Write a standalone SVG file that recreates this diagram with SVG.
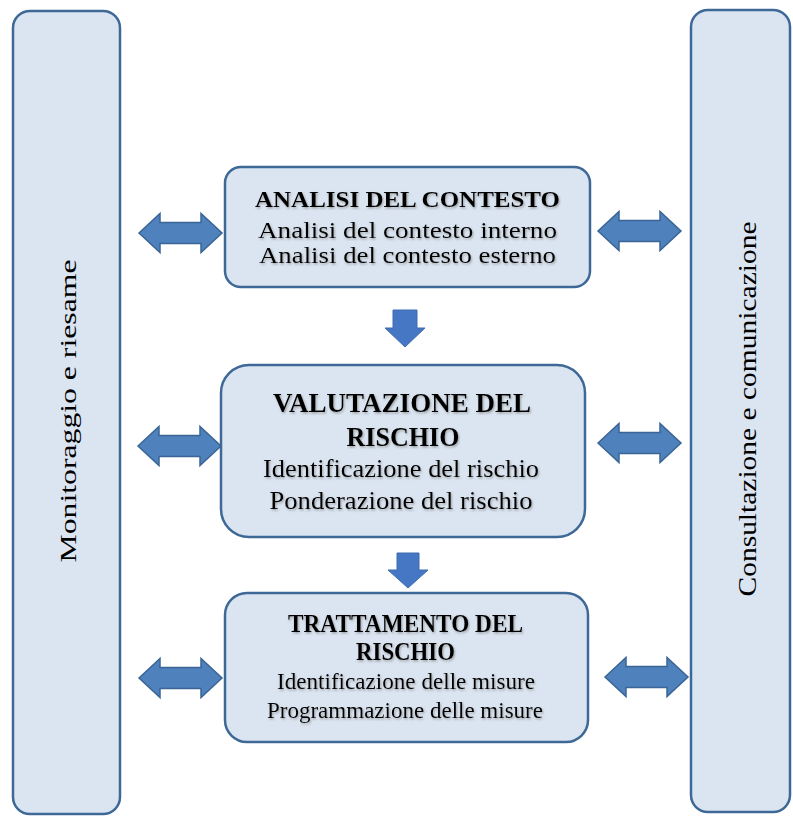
<svg xmlns="http://www.w3.org/2000/svg" width="793" height="816" viewBox="0 0 793 816">
<style>
.panel{fill:#dbe5f1;stroke:#3e6896;stroke-width:2.5}
.box{fill:#dbe5f1;stroke:#3e6896;stroke-width:2.5}
.t{font-family:"Liberation Serif","Times New Roman",serif;fill:#000;text-anchor:middle}
.b{font-weight:bold}
.sh{filter:url(#shadow)}
.darrow{fill:#4f81bd;stroke:#3a6595;stroke-width:1.5;stroke-linejoin:miter}
.down{fill:#4677c4;stroke:#3f6db0;stroke-width:1}
</style>
<defs>
<filter id="shadow" x="-10%" y="-30%" width="120%" height="160%">
<feDropShadow dx="1" dy="1.5" stdDeviation="1" flood-color="#666" flood-opacity="0.55"/>
</filter>
<path id="dbl" d="M0,0 L21,-19.5 L21,-10.5 L62,-10.5 L62,-19.5 L83,0 L62,19.5 L62,10.5 L21,10.5 L21,19.5 Z"/>
</defs>
<rect width="793" height="816" fill="#fff"/>

<g id="monitoraggio">
<rect class="panel" x="13" y="11" width="107" height="803" rx="17"/>
<text class="t" font-size="24" textLength="303" lengthAdjust="spacingAndGlyphs" transform="translate(76,411) rotate(-90)">Monitoraggio  e  riesame</text>
</g>

<g id="consultazione">
<rect class="panel" x="691" y="10" width="99" height="802" rx="17"/>
<text class="t" font-size="25" textLength="375" lengthAdjust="spacingAndGlyphs" transform="translate(756,409) rotate(-90)">Consultazione  e  comunicazione</text>
</g>

<g id="analisi">
<rect class="box" x="225" y="167" width="365" height="120" rx="16"/>
<g class="sh">
<text class="t b" x="407.5" y="207" font-size="23.5" textLength="305" lengthAdjust="spacingAndGlyphs">ANALISI DEL CONTESTO</text>
<text class="t" x="407.5" y="238" font-size="23" textLength="299" lengthAdjust="spacingAndGlyphs">Analisi del contesto interno</text>
<text class="t" x="407.5" y="263" font-size="23" textLength="297" lengthAdjust="spacingAndGlyphs">Analisi del contesto esterno</text>
</g>
</g>

<g id="valutazione">
<rect class="box" x="221" y="365" width="364" height="172" rx="28"/>
<g class="sh">
<text class="t b" x="402" y="412" font-size="28" textLength="258" lengthAdjust="spacingAndGlyphs">VALUTAZIONE DEL</text>
<text class="t b" x="403" y="446" font-size="28" textLength="113" lengthAdjust="spacingAndGlyphs">RISCHIO</text>
<text class="t" x="401" y="477" font-size="26" textLength="276" lengthAdjust="spacingAndGlyphs">Identificazione  del rischio</text>
<text class="t" x="401" y="509" font-size="26" textLength="263" lengthAdjust="spacingAndGlyphs">Ponderazione del rischio</text>
</g>
</g>

<g id="trattamento">
<rect class="box" x="225" y="593" width="363" height="149" rx="22"/>
<g class="sh">
<text class="t b" x="405.5" y="632" font-size="25" textLength="235" lengthAdjust="spacingAndGlyphs">TRATTAMENTO DEL</text>
<text class="t b" x="405.5" y="660" font-size="25" textLength="99" lengthAdjust="spacingAndGlyphs">RISCHIO</text>
<text class="t" x="406" y="689" font-size="23" textLength="258" lengthAdjust="spacingAndGlyphs">Identificazione  delle misure</text>
<text class="t" x="405" y="718" font-size="23" textLength="276" lengthAdjust="spacingAndGlyphs">Programmazione  delle misure</text>
</g>
</g>

<g id="connectors">
<use href="#dbl" class="darrow" x="139" y="233"/>
<use href="#dbl" class="darrow" x="138" y="446"/>
<use href="#dbl" class="darrow" x="139" y="678"/>
<use href="#dbl" class="darrow" x="598" y="231"/>
<use href="#dbl" class="darrow" x="598" y="443"/>
<use href="#dbl" class="darrow" x="605" y="677"/>
<path class="down" d="M393,310 H417 V328 H425 L405,347 L385,328 H393 Z"/>
<path class="down" d="M397,553 H419 V570 H428 L408,588 L388,570 H397 Z"/>
</g>
</svg>
